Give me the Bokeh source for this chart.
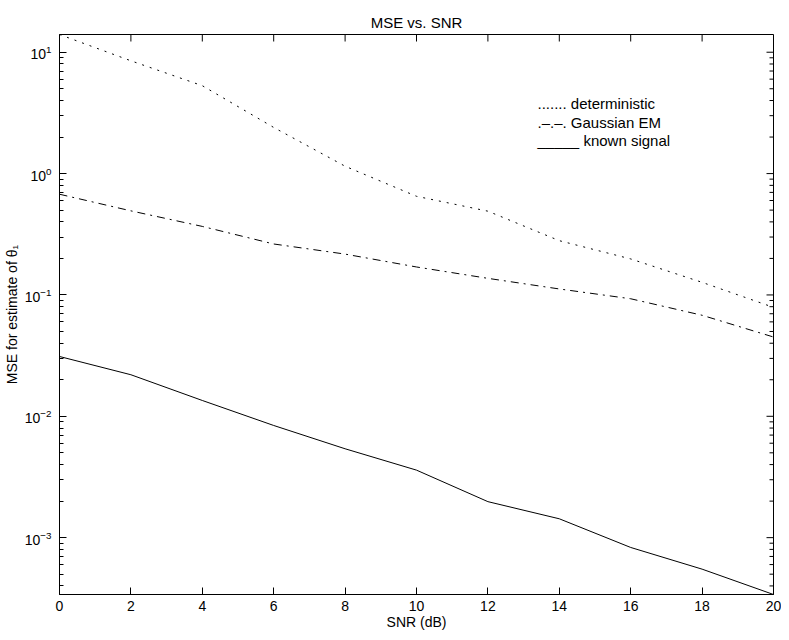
import math
from bokeh.plotting import figure
from bokeh.models import Range1d, FixedTicker, Label
from bokeh.embed import file_html
from bokeh.resources import INLINE

# ---- data ----
snr_db = [0, 2, 4, 6, 8, 10, 12, 14, 16, 18, 20]
deterministic = [14.0, 8.5, 5.3, 2.4, 1.15, 0.65, 0.49, 0.28, 0.198, 0.127, 0.079]
gaussian_em = [0.676, 0.493, 0.367, 0.263, 0.217, 0.170, 0.137, 0.112, 0.093, 0.068, 0.045]
known_signal = [0.0311, 0.0220, 0.0135, 0.0084, 0.0054, 0.0036, 0.00198, 0.00143, 0.00083, 0.00055, 0.00034]

x_ticks = [0, 2, 4, 6, 8, 10, 12, 14, 16, 18, 20]
y_decades = [1e-3, 1e-2, 1e-1, 1e0, 1e1]
legend_labels = ["....... deterministic", ".\u2013.\u2013. Gaussian EM", "_____ known signal"]

FONT = "Liberation Sans"

all_vals = deterministic + gaussian_em + known_signal
y_lo, y_hi = min(all_vals), max(all_vals)
x_lo, x_hi = min(snr_db), max(snr_db)
y_minor = [m * d for d in [1e-4] + y_decades for m in range(2, 10)]
y_minor_in = [v for v in y_minor if y_lo <= v <= y_hi]
y_major_in = [v for v in y_decades if y_lo <= v <= y_hi]

p = figure(width=781, height=632, y_axis_type="log",
           x_range=Range1d(x_lo, x_hi),
           y_range=Range1d(y_lo, y_hi),
           output_backend="svg", toolbar_location=None,
           min_border_left=59, min_border_right=8, min_border_top=34, min_border_bottom=38)

p.title.text = "MSE vs. SNR"
p.title.align = "center"
p.title.text_font = FONT
p.title.text_font_size = "15px"
p.title.text_font_style = "normal"
p.title.text_color = "black"
p.title.standoff = 8

p.grid.visible = False
p.outline_line_color = "black"
p.outline_line_width = 1
p.background_fill_color = "white"
p.border_fill_color = "white"

xt = FixedTicker(ticks=x_ticks, minor_ticks=[])
yt = FixedTicker(ticks=y_decades, minor_ticks=y_minor)

bottom_axis = p.below[0]
left_axis = p.left[0]
bottom_axis.ticker = xt
bottom_axis.axis_label = "SNR (dB)"
left_axis.ticker = yt
left_axis.axis_label = "MSE for estimate of \u03b8\u2081"

for ax in [bottom_axis, left_axis]:
    ax.axis_line_color = "black"
    ax.major_tick_line_color = "black"
    ax.minor_tick_line_color = "black"
    ax.major_tick_in = 7
    ax.major_tick_out = 0
    ax.minor_tick_in = 4
    ax.minor_tick_out = 0
    ax.major_label_text_font = FONT
    ax.major_label_text_font_size = "14px"
    ax.major_label_text_color = "black"
    ax.axis_label_text_font = FONT
    ax.axis_label_text_font_size = "14px"
    ax.axis_label_text_font_style = "normal"
    ax.axis_label_text_color = "black"

bottom_axis.major_label_standoff = 6
bottom_axis.axis_label_standoff = 0
left_axis.major_label_standoff = 8
left_axis.axis_label_standoff = 2

# box ticks on the top and right edges (mirror of the axis ticks)
p.ray(x=x_ticks, y=[y_hi] * len(x_ticks), length=7, length_units="screen",
      angle=-math.pi / 2, line_color="black", line_width=1)
p.ray(x=[x_hi] * len(y_major_in), y=y_major_in, length=7, length_units="screen",
      angle=math.pi, line_color="black", line_width=1)
p.ray(x=[x_hi] * len(y_minor_in), y=y_minor_in, length=4, length_units="screen",
      angle=math.pi, line_color="black", line_width=1)

p.line(snr_db, deterministic, line_color="black", line_width=1, line_dash="2 6")
p.line(snr_db, gaussian_em, line_color="black", line_width=1, line_dash="8 5 2 5")
p.line(snr_db, known_signal, line_color="black", line_width=1)

for i, txt in enumerate(legend_labels):
    p.add_layout(Label(x=478, y=491 - i * 18.7, x_units="screen", y_units="screen",
                       text=txt, text_font=FONT, text_font_size="15px",
                       text_baseline="middle", text_color="black"))

open("out.html", "w").write(file_html(p, INLINE))
